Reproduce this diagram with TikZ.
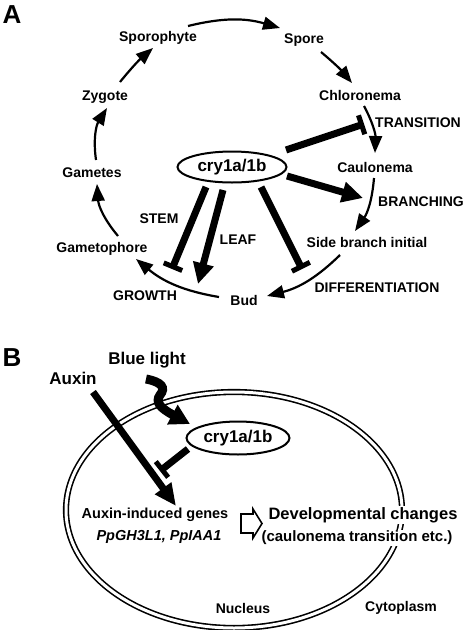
\documentclass[tikz,border=0pt]{standalone}
\usepackage{fontspec}
\setmainfont{Liberation Sans}
\usetikzlibrary{arrows.meta,shapes.geometric}
\begin{document}
\begin{tikzpicture}[x=1pt,y=-1pt,
  lab/.style={font=\fontsize{14}{16}\selectfont\bfseries, inner sep=1pt},
  labb/.style={font=\fontsize{14.5}{16}\selectfont\bfseries, inner sep=1pt, fill=white},
  big/.style={font=\fontsize{17}{19}\selectfont\bfseries, inner sep=1pt},
  panel/.style={font=\fontsize{26}{28}\selectfont\bfseries, inner sep=0pt},
  cyc/.style={line width=2.2pt, -{Triangle[length=17pt,width=13pt]}},
  thickarr/.style={line width=7pt, -{Triangle[length=21pt,width=20pt]}},
  inhib/.style={line width=7pt, -{Bar[width=20pt,line width=5pt]}},
  cryell/.style={ellipse, draw, line width=2pt, inner sep=0pt, fill=white,
    font=\fontsize{17}{19}\selectfont\bfseries},
  cell/.style={double, double distance=3pt, line width=1.6pt}
]
\useasboundingbox (0,0) rectangle (466,630);

% ---------- Panel A ----------
\node[panel] (A) at (12,15) {A};
\node[lab] (sporo) at (158,38) {Sporophyte};
\node[lab] (spore) at (304,40) {Spore};
\node[lab] (chlor) at (360,95) {Chloronema};
\node[lab] (trans) at (418,123) {TRANSITION};
\node[lab] (caul) at (375,167) {Caulonema};
\node[lab] (branch) at (421,202) {BRANCHING};
\node[lab] (side) at (367,242) {Side branch initial};
\node[lab] (diff) at (377,288) {DIFFERENTIATION};
\node[lab] (bud) at (244,300) {Bud};
\node[lab] (growth) at (145,296) {GROWTH};
\node[lab] (gph) at (102,249) {Gametophore};
\node[lab] (stem) at (159,219) {STEM};
\node[lab] (leaf) at (238,240) {LEAF};
\node[lab] (gam) at (92,173) {Gametes};
\node[lab] (zyg) at (105,97) {Zygote};
\node[cryell, minimum width=109pt, minimum height=31pt] (cryA) at (232,167) {cry1a/1b};

\coordinate (c1s) at (188,26);  \coordinate (c1e) at (280,28);
\coordinate (c2s) at (321,52);  \coordinate (c2e) at (352,83);
\coordinate (c3s) at (364,106); \coordinate (c3e) at (375,153);
\coordinate (c4s) at (374,178); \coordinate (c4e) at (355,231);
\coordinate (c5s) at (340,255); \coordinate (c5e) at (267,296);
\coordinate (c6s) at (219,297); \coordinate (c6e) at (136,259);
\coordinate (c7s) at (118,236); \coordinate (c7e) at (97,184);
\coordinate (c8s) at (96,160);  \coordinate (c8e) at (107,108);
\coordinate (c9s) at (120,82);  \coordinate (c9e) at (153,48);

\draw[cyc] (c1s) to[bend left=15] (c1e);
\draw[cyc] (c2s) to[bend left=5] (c2e);
\draw[cyc] (c3s) to[bend left=15] (c3e);
\draw[cyc] (c4s) to[bend left=15] (c4e);
\draw[cyc] (c5s) to[bend left=15] (c5e);
\draw[cyc] (c6s) to[bend left=15] (c6e);
\draw[cyc] (c7s) to[bend left=18] (c7e);
\draw[cyc] (c8s) to[bend left=20] (c8e);
\draw[cyc] (c9s) to[bend left=5] (c9e);

\coordinate (t1s) at (286,150); \coordinate (t1e) at (364,124);
\coordinate (t2s) at (287,176); \coordinate (t2e) at (363,198);
\coordinate (t3s) at (206,187); \coordinate (t3e) at (172,269);
\coordinate (t4s) at (223,190); \coordinate (t4e) at (198,284);
\coordinate (t5s) at (261,187); \coordinate (t5e) at (302,269);
\draw[inhib] (t1s) -- (t1e);
\draw[thickarr] (t2s) -- (t2e);
\draw[inhib] (t3s) -- (t3e);
\draw[thickarr] (t4s) -- (t4e);
\draw[inhib] (t5s) -- (t5e);

% ---------- Panel B ----------
\node[panel] (B) at (12,358) {B};
\draw[cell] (234,510) ellipse [x radius=168pt, y radius=118pt];
\node[big] (blue) at (147,360) {Blue light};
\node[big] (aux) at (73,378) {Auxin};
\node[cryell, minimum width=103pt, minimum height=33pt] (cryB) at (238,438) {cry1a/1b};
\node[labb] (genes) at (155,515) {Auxin-induced genes};
\node[labb] (genes2) at (159,537) {\itshape PpGH3L1, PpIAA1};
\node[font=\fontsize{16.5}{18}\selectfont\bfseries, inner sep=1pt, fill=white] (dev) at (363,515) {Developmental changes};
\node[font=\fontsize{15}{17}\selectfont\bfseries, inner sep=1pt, fill=white] (dev2) at (357,538) {(caulonema transition etc.)};
\node[lab] (nuc) at (243,608) {Nucleus};
\node[lab] (cyto) at (401,608) {Cytoplasm};

\draw[line width=1.6pt, fill=white, line join=miter]
  (241,514) -- (253,514) -- (253,509) -- (262,523.5) -- (253,538) -- (253,533) -- (241,533) -- cycle;

\coordinate (ax1) at (93,392); \coordinate (ax2) at (176,506);
\draw[line width=7pt, -{Triangle[length=22pt,width=19pt]}] (ax1) -- (ax2);

\coordinate (bl1) at (146,379); \coordinate (bl2) at (190,424);
\draw[line width=9pt, -{Triangle[length=20pt,width=21pt]}]
  (bl1) .. controls (162,382) and (166,388) .. (160,395)
        .. controls (155,402) and (160,408) .. (bl2);

\coordinate (ih1) at (188,449); \coordinate (ih2) at (160,471);
\draw[inhib] (ih1) -- (ih2);
\end{tikzpicture}
\end{document}
